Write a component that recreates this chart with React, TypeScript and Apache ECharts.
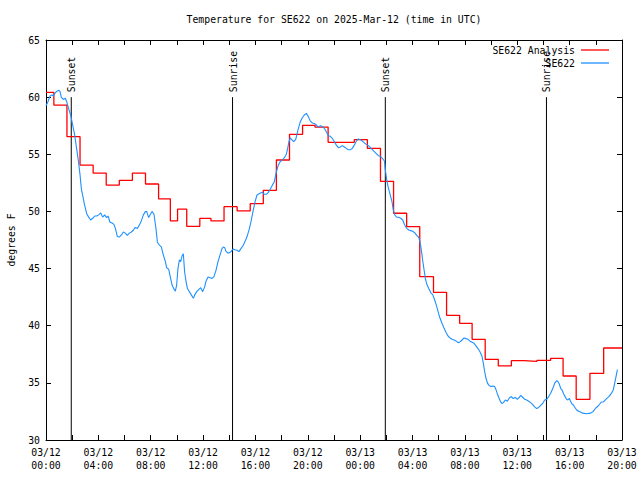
import React, { useEffect, useRef } from "react";
import * as echarts from "echarts";

const FONT_FAMILY = "DejaVu Sans Mono";
const FONT_SIZE = 9.8;
const FONT = `${FONT_SIZE}px "${FONT_FAMILY}"`;

const titleText = "Temperature for SE622 on 2025-Mar-12 (time in UTC)";
const yAxisName = "degrees F";
const seriesNames = ["SE622 Analysis", "SE622"];

// x axis: hours since 03/12 00:00 UTC, labelled every 4 hours
const xTickLabels = [
  "03/12\n00:00", "03/12\n04:00", "03/12\n08:00", "03/12\n12:00",
  "03/12\n16:00", "03/12\n20:00", "03/13\n00:00", "03/13\n04:00",
  "03/13\n08:00", "03/13\n12:00", "03/13\n16:00", "03/13\n20:00",
];

// sun events (hours since start)
const sunHours = [1.93, 14.25, 25.92, 38.23];
const sunLabels = ["Sunset", "Sunrise", "Sunset", "Sunrise"];
const sunLineTop = 60;

// analysis: [start hour, value] held until next point
const analysis: [number, number][] = [
  [0, 60.42], [0.6, 59.31], [1.6, 56.54], [2.6, 54.06], [3.6, 53.36],
  [4.6, 52.31], [5.6, 52.72], [6.6, 53.36], [7.6, 52.4], [8.6, 51.1],
  [9.5, 49.17], [10.05, 50.2], [10.75, 48.7], [11.75, 49.4], [12.6, 49.17],
  [13.6, 50.42], [14.6, 50.04], [15.6, 50.68], [16.6, 51.85], [17.6, 54.5],
  [18.6, 56.75], [19.6, 57.53], [20.55, 57.38], [21.55, 56.05], [23.55, 56.28],
  [24.55, 55.52], [25.55, 52.63], [26.55, 49.84], [27.55, 48.67], [28.55, 44.29],
  [29.6, 42.92], [30.6, 40.91], [31.6, 40.21], [32.55, 38.81], [33.55, 37.06],
  [34.55, 36.48], [35.55, 36.94], [36.5, 36.88], [37.5, 36.97], [38.55, 37.15],
  [39.5, 35.6], [40.5, 33.56], [41.55, 35.83], [42.6, 38.05], [44, 38.05],
];

// observations: [hour, degrees F]
const observed: [number, number][] = [
  [0.0, 59.25], [0.15, 59.6], [0.31, 60.1], [0.46, 60.2], [0.56, 60.1],
  [0.66, 60.3], [0.81, 60.5], [0.97, 60.6], [1.07, 60.5], [1.17, 59.98],
  [1.32, 59.8], [1.48, 59.9], [1.58, 59.6], [1.73, 59.0], [1.88, 58.44],
  [2.04, 57.56], [2.19, 56.7], [2.34, 55.5], [2.5, 54.2], [2.6, 53.2],
  [2.7, 52.0], [2.8, 51.4], [2.95, 50.56], [3.11, 49.8], [3.26, 49.5],
  [3.41, 49.25], [3.57, 49.4], [3.72, 49.6], [3.87, 49.6], [4.02, 49.7],
  [4.18, 49.87], [4.33, 49.5], [4.48, 49.7], [4.63, 49.46], [4.74, 49.6],
  [4.89, 49.05], [5.04, 48.99], [5.19, 48.87], [5.3, 48.52], [5.45, 47.8],
  [5.6, 47.76], [5.76, 47.94], [5.91, 48.2], [6.06, 48.1], [6.21, 47.9],
  [6.37, 48.1], [6.52, 48.2], [6.67, 48.35], [6.82, 48.6], [6.98, 48.5],
  [7.13, 48.8], [7.28, 49.17], [7.44, 49.7], [7.59, 49.98], [7.69, 50.0],
  [7.84, 49.46], [8.0, 49.8], [8.1, 50.0], [8.25, 49.75], [8.4, 48.5],
  [8.51, 47.3], [8.66, 47.06], [8.81, 46.9], [8.96, 46.2], [9.12, 45.6],
  [9.22, 45.07], [9.37, 44.95], [9.52, 44.14], [9.63, 43.56], [9.78, 43.2],
  [9.88, 43.02], [9.98, 43.56], [10.08, 45.0], [10.19, 45.77], [10.29, 45.6],
  [10.39, 46.1], [10.49, 46.3], [10.59, 44.7], [10.7, 43.85], [10.8, 43.27],
  [10.95, 42.98], [11.1, 42.7], [11.26, 42.4], [11.36, 42.7], [11.51, 42.98],
  [11.66, 43.15], [11.82, 43.33], [11.97, 42.98], [12.12, 43.4], [12.22, 43.9],
  [12.38, 44.26], [12.53, 44.2], [12.68, 44.14], [12.83, 44.3], [12.99, 44.86],
  [13.14, 45.6], [13.29, 46.18], [13.45, 46.77], [13.55, 46.88], [13.65, 46.83],
  [13.75, 46.5], [13.9, 46.36], [13.98, 46.36], [14.13, 46.48], [14.29, 46.71],
  [14.44, 46.65], [14.59, 46.6], [14.74, 46.48], [14.9, 46.77], [15.05, 47.0],
  [15.2, 47.36], [15.36, 47.8], [15.51, 48.38], [15.66, 49.1], [15.81, 49.98],
  [15.97, 50.86], [16.12, 51.44], [16.38, 51.62], [16.53, 51.67], [16.68, 51.5],
  [16.83, 51.5], [16.98, 51.67], [17.14, 51.96], [17.29, 52.3], [17.44, 52.6],
  [17.6, 53.48], [17.75, 54.06], [17.9, 54.36], [18.05, 54.5], [18.21, 54.7],
  [18.36, 55.0], [18.46, 55.52], [18.56, 56.1], [18.66, 56.45], [18.77, 56.28],
  [18.92, 56.1], [19.07, 56.28], [19.17, 56.75], [19.28, 57.27], [19.43, 57.85],
  [19.58, 58.2], [19.73, 58.44], [19.89, 58.58], [20.04, 58.3], [20.19, 57.9],
  [20.35, 57.74], [20.5, 57.7], [20.65, 57.56], [20.8, 57.38], [20.96, 57.5],
  [21.11, 57.44], [21.26, 57.27], [21.41, 56.98], [21.57, 56.63], [21.72, 56.57],
  [21.87, 56.4], [22.03, 56.1], [22.18, 55.8], [22.33, 55.58], [22.48, 55.64],
  [22.64, 55.76], [22.79, 55.64], [22.94, 55.52], [23.09, 55.4], [23.25, 55.4],
  [23.4, 55.52], [23.55, 55.8], [23.71, 56.16], [23.86, 56.34], [24.01, 56.28],
  [24.16, 56.16], [24.32, 55.99], [24.47, 55.87], [24.62, 55.76], [24.78, 55.58],
  [24.93, 55.4], [25.08, 55.23], [25.23, 55.06], [25.39, 54.88], [25.54, 54.82],
  [25.69, 54.65], [25.85, 54.41], [25.92, 53.63], [26.03, 52.75], [26.13, 52.17],
  [26.23, 51.73], [26.33, 51.3], [26.43, 50.86], [26.53, 50.13], [26.64, 49.69],
  [26.79, 49.49], [26.94, 49.49], [27.1, 49.4], [27.25, 49.25], [27.4, 48.81],
  [27.55, 48.52], [27.71, 48.38], [27.86, 48.32], [28.01, 48.26], [28.16, 48.14],
  [28.32, 47.91], [28.47, 47.74], [28.57, 47.36], [28.67, 46.63], [28.77, 45.75],
  [28.88, 44.88], [28.98, 44.15], [29.08, 43.65], [29.23, 43.27], [29.39, 42.9],
  [29.54, 42.72], [29.69, 42.25], [29.85, 41.67], [30.0, 41.03], [30.1, 40.65],
  [30.25, 40.21], [30.41, 39.77], [30.56, 39.4], [30.71, 39.1], [30.86, 38.93],
  [31.02, 38.81], [31.17, 38.75], [31.32, 38.67], [31.47, 38.52], [31.63, 38.58],
  [31.78, 38.75], [31.93, 38.93], [32.08, 38.87], [32.24, 38.81], [32.39, 38.65],
  [32.7, 38.46], [33.0, 38.0], [33.16, 37.7], [33.31, 37.3], [33.41, 36.7],
  [33.51, 35.98], [33.61, 35.4], [33.72, 35.0], [33.82, 34.8], [33.97, 34.67],
  [34.12, 34.73], [34.28, 34.67], [34.38, 34.38], [34.48, 34.03], [34.58, 33.74],
  [34.73, 33.33], [34.83, 33.2], [34.94, 33.27], [35.09, 33.5], [35.24, 33.39],
  [35.39, 33.68], [35.55, 33.8], [35.7, 33.62], [35.85, 33.74], [36.0, 33.56],
  [36.16, 33.74], [36.26, 33.9], [36.41, 33.74], [36.57, 33.56], [36.72, 33.5],
  [36.87, 33.39], [37.03, 33.27], [37.18, 33.1], [37.33, 32.9], [37.48, 32.75],
  [37.64, 32.85], [37.79, 33.03], [37.94, 33.2], [38.09, 33.5], [38.25, 33.56],
  [38.4, 33.8], [38.55, 34.09], [38.71, 34.5], [38.86, 34.97], [39.01, 35.2],
  [39.11, 35.1], [39.21, 34.9], [39.32, 34.5], [39.42, 34.38], [39.52, 34.09],
  [39.62, 33.86], [39.77, 33.56], [39.87, 33.5], [39.98, 33.65], [40.08, 33.36],
  [40.18, 33.15], [40.29, 33.06], [40.44, 32.77], [40.59, 32.57], [40.75, 32.5],
  [41.0, 32.35], [41.3, 32.3], [41.6, 32.35], [41.8, 32.5], [42.0, 32.8],
  [42.2, 33.0], [42.4, 33.3], [42.6, 33.35], [42.8, 33.6], [43.0, 33.8],
  [43.2, 34.1], [43.34, 34.4], [43.5, 35.3], [43.65, 36.15],
];

const RED = "#ff0000";
const BLUE = "#1e90ff";

function axisBase(position: string) {
  return {
    position,
    axisLine: { show: true, onZero: false, lineStyle: { color: "#000", width: 1 } },
    axisTick: { show: true, inside: true, length: 5, lineStyle: { color: "#000", width: 1 } },
    splitLine: { show: false },
  };
}

export default function App() {
  const ref = useRef<HTMLDivElement>(null);

  useEffect(() => {
    if (!ref.current) return;
    const chart = echarts.init(ref.current, null, { renderer: "svg" });

    const option: any = {
      animation: false,
      backgroundColor: "#ffffff",
      textStyle: { fontFamily: FONT_FAMILY, fontSize: FONT_SIZE, color: "#000" },
      grid: { left: 46, right: 18, top: 40, bottom: 40 },
      xAxis: [
        {
          type: "value",
          min: 0,
          max: 44,
          interval: 2,
          ...axisBase("bottom"),
          axisLabel: {
            show: true,
            margin: 6,
            color: "#000",
            fontFamily: FONT_FAMILY,
            fontSize: FONT_SIZE,
            lineHeight: 13,
            showMinLabel: true,
            showMaxLabel: true,
            hideOverlap: false,
            formatter: (v: number) => (v % 4 === 0 ? xTickLabels[v / 4] : ""),
          },
        },
        {
          type: "value",
          min: 0,
          max: 44,
          interval: 2,
          ...axisBase("top"),
          axisLabel: { show: false },
        },
      ],
      yAxis: [
        {
          type: "value",
          min: 30,
          max: 65,
          interval: 5,
          ...axisBase("left"),
          axisLabel: {
            show: true,
            margin: 6,
            color: "#000",
            fontFamily: FONT_FAMILY,
            fontSize: FONT_SIZE,
          },
        },
        {
          type: "value",
          min: 30,
          max: 65,
          interval: 5,
          ...axisBase("right"),
          axisLabel: { show: false },
        },
      ],
      series: [
        {
          type: "custom",
          name: "sun",
          silent: true,
          xAxisIndex: 0,
          yAxisIndex: 0,
          z: 1,
          encode: { x: 0, y: 1 },
          data: sunHours.map((h, i) => [h, sunLineTop, i]),
          renderItem: (params: any, api: any) => {
            const h = api.value(0);
            const top = api.coord([h, api.value(1)]);
            const bottom = api.coord([h, 30]);
            const label = sunLabels[api.value(2)];
            return {
              type: "group",
              children: [
                {
                  type: "line",
                  shape: { x1: top[0], y1: top[1], x2: bottom[0], y2: bottom[1] },
                  style: { stroke: "#000", lineWidth: 1 },
                },
                {
                  type: "text",
                  x: top[0] + 0.5,
                  y: top[1] - 5,
                  rotation: Math.PI / 2,
                  style: {
                    text: label,
                    fill: "#000",
                    font: FONT,
                    textAlign: "left",
                    textVerticalAlign: "middle",
                  },
                },
              ],
            };
          },
        },
        {
          type: "line",
          name: seriesNames[0],
          data: analysis,
          step: "end",
          symbol: "none",
          z: 2,
          lineStyle: { color: RED, width: 1.3 },
          itemStyle: { color: RED },
        },
        {
          type: "line",
          name: seriesNames[1],
          data: observed,
          symbol: "none",
          z: 3,
          lineStyle: { color: BLUE, width: 1.1 },
          itemStyle: { color: BLUE },
        },
      ],
      graphic: [
        {
          type: "text",
          x: 334,
          y: 19,
          style: { text: titleText, fill: "#000", font: FONT, textAlign: "center", textVerticalAlign: "middle" },
        },
        {
          type: "text",
          x: 11,
          y: 240,
          rotation: Math.PI / 2,
          style: { text: yAxisName, fill: "#000", font: FONT, textAlign: "center", textVerticalAlign: "middle" },
        },
        {
          type: "text",
          x: 575,
          y: 50,
          z: 10,
          style: { text: seriesNames[0], fill: "#000", font: FONT, textAlign: "right", textVerticalAlign: "middle" },
        },
        {
          type: "line",
          z: 10,
          shape: { x1: 581, y1: 50, x2: 609, y2: 50 },
          style: { stroke: RED, lineWidth: 1.3 },
        },
        {
          type: "text",
          x: 575,
          y: 63,
          z: 10,
          style: { text: seriesNames[1], fill: "#000", font: FONT, textAlign: "right", textVerticalAlign: "middle" },
        },
        {
          type: "line",
          z: 10,
          shape: { x1: 581, y1: 63, x2: 609, y2: 63 },
          style: { stroke: BLUE, lineWidth: 1.3 },
        },
      ],
    };

    chart.setOption(option);
    return () => chart.dispose();
  }, []);

  return (
    <div
      ref={ref}
      style={{ position: "fixed", left: 0, top: 0, width: 640, height: 480, background: "#fff" }}
    />
  );
}
